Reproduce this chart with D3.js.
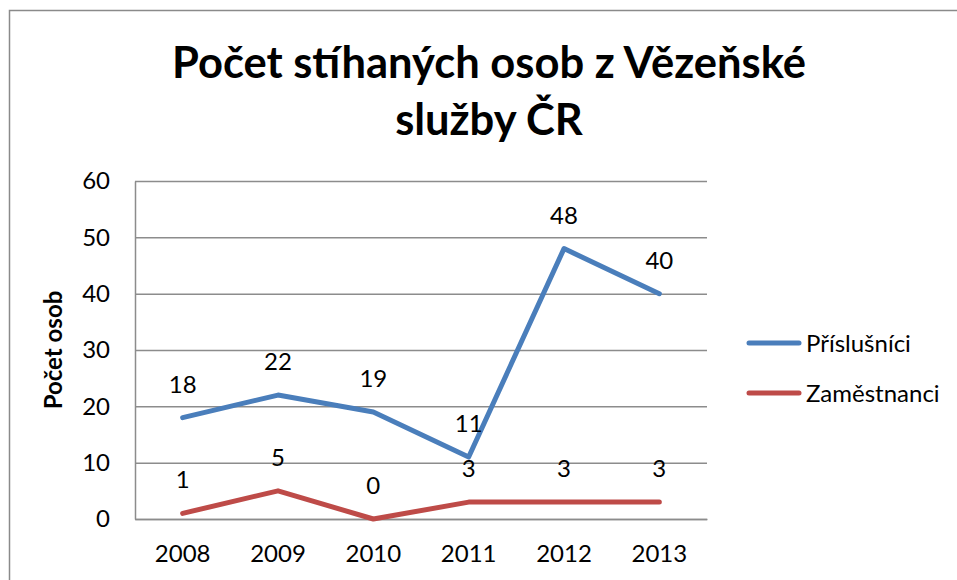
<!DOCTYPE html>
<html>
<head>
<meta charset="utf-8">
<script src="https://cdn.jsdelivr.net/npm/d3@7"></script>
<style>
  body { margin: 0; background: #fff; }
  svg text { font-family: Lato, "Open Sans", sans-serif; fill: #000; }
</style>
</head>
<body>
<div id="chart"></div>
<script>
// Data
const years = ["2008", "2009", "2010", "2011", "2012", "2013"];
const prislusnici = [18, 22, 19, 11, 48, 40];
const zamestnanci = [1, 5, 0, 3, 3, 3];
const seriesNames = ["Příslušníci", "Zaměstnanci"];
const yTicks = [0, 10, 20, 30, 40, 50, 60];
const titleLines = ["Počet stíhaných osob z Vězeňské", "služby ČR"];
const yTitle = "Počet osob";

// Dimensions
const width = 957;
const height = 580;
const plotLeft = 135;
const plotRight = 707;
const plotTop = 181;
const plotBottom = 519;
const fontSize = 24;

const colors = ["#4a7ebb", "#be4b48"];
const gridColor = "#8c8c8c";

const svg = d3.select("#chart").append("svg")
    .attr("width", width)
    .attr("height", height);

// Outer chart border (runs off the right and bottom edges)
svg.append("rect")
    .attr("x", 9.5)
    .attr("y", 10.5)
    .attr("width", width + 20)
    .attr("height", height + 20)
    .attr("fill", "none")
    .attr("stroke", "#8a8a8a")
    .attr("stroke-width", 1.5);

// Scales
const x = d3.scaleBand()
    .domain(years)
    .range([plotLeft, plotRight]);

const y = d3.scaleLinear()
    .domain([0, 60])
    .range([plotBottom, plotTop]);

const cx = d => x(d) + x.bandwidth() / 2;

// Gridlines
svg.append("g")
    .attr("transform", `translate(${plotLeft},0)`)
    .call(d3.axisLeft(y).tickValues(yTicks).tickSize(-(plotRight - plotLeft)).tickFormat(""))
    .call(g => g.select(".domain").remove())
    .call(g => g.selectAll("line").attr("stroke", gridColor).attr("stroke-width", 1.5));

// Y axis
svg.append("g")
    .attr("transform", `translate(${plotLeft},0)`)
    .call(d3.axisLeft(y).tickValues(yTicks).tickSize(0).tickPadding(25))
    .call(g => g.select(".domain").attr("stroke", gridColor).attr("stroke-width", 1.5))
    .call(g => g.selectAll("text").attr("font-size", fontSize).attr("font-family", "Lato"));

// X axis
svg.append("g")
    .attr("transform", `translate(0,${plotBottom})`)
    .call(d3.axisBottom(x).tickSize(0))
    .call(g => g.select(".domain").attr("stroke", gridColor).attr("stroke-width", 1.5))
    .call(g => g.selectAll("text")
        .attr("font-size", fontSize)
        .attr("font-family", "Lato")
        .attr("dy", null)
        .attr("y", 43));

// Lines
const line = d3.line()
    .x((d, i) => cx(years[i]))
    .y(d => y(d));

const series = [prislusnici, zamestnanci];

svg.append("g")
    .selectAll("path")
    .data(series)
    .join("path")
    .attr("fill", "none")
    .attr("stroke", (d, i) => colors[i])
    .attr("stroke-width", 5)
    .attr("stroke-linejoin", "round")
    .attr("stroke-linecap", "round")
    .attr("d", d => line(d));

// Data labels
series.forEach(values => {
    svg.append("g")
        .selectAll("text")
        .data(values)
        .join("text")
        .attr("x", (d, i) => cx(years[i]))
        .attr("y", d => y(d) - 25)
        .attr("text-anchor", "middle")
        .attr("font-size", fontSize)
        .text(d => d);
});

// Legend
const legend = svg.append("g");
seriesNames.forEach((name, i) => {
    const ly = 343 + i * 50;
    legend.append("line")
        .attr("x1", 749).attr("x2", 799)
        .attr("y1", ly).attr("y2", ly)
        .attr("stroke", colors[i])
        .attr("stroke-width", 5)
        .attr("stroke-linecap", "round");
    legend.append("text")
        .attr("x", 806)
        .attr("y", ly + 9)
        .attr("font-size", fontSize)
        .text(name);
});

// Title
svg.append("text")
    .attr("text-anchor", "middle")
    .attr("font-size", 43.5)
    .attr("font-weight", "bold")
    .selectAll("tspan")
    .data(titleLines)
    .join("tspan")
    .attr("x", 489)
    .attr("y", (d, i) => 78 + i * 57)
    .text(d => d);

// Y axis title
svg.append("text")
    .attr("transform", "translate(62,350) rotate(-90)")
    .attr("text-anchor", "middle")
    .attr("font-size", fontSize)
    .attr("font-weight", "bold")
    .text(yTitle);
</script>
</body>
</html>
